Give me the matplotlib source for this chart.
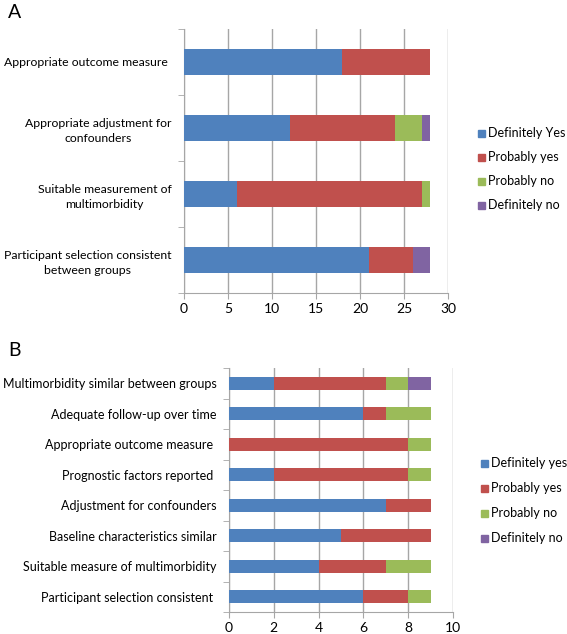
import matplotlib
matplotlib.use("Agg")
import matplotlib.pyplot as plt
import numpy as np

plt.rcParams['font.family'] = ['Lato', 'DejaVu Sans']

cats_a = ["Appropriate outcome measure ",
          "Appropriate adjustment for\nconfounders",
          "Suitable measurement of\nmultimorbidity",
          "Participant selection consistent\nbetween groups"]
def_yes_a = [18, 12, 6, 21]
prob_yes_a = [10, 12, 21, 5]
prob_no_a = [0, 3, 1, 0]
def_no_a = [0, 1, 0, 2]
legend_a = ["Definitely Yes", "Probably yes", "Probably no", "Definitely no"]
xticks_a = [0, 5, 10, 15, 20, 25, 30]

cats_b = ["Multimorbidity similar between groups",
          "Adequate follow-up over time",
          "Appropriate outcome measure ",
          "Prognostic factors reported ",
          "Adjustment for confounders",
          "Baseline characteristics similar",
          "Suitable measure of multimorbidity",
          "Participant selection consistent "]
def_yes_b = [2, 6, 0, 2, 7, 5, 4, 6]
prob_yes_b = [5, 1, 8, 6, 2, 4, 3, 2]
prob_no_b = [1, 2, 1, 1, 0, 0, 2, 1]
def_no_b = [1, 0, 0, 0, 0, 0, 0, 0]
legend_b = ["Definitely yes", "Probably yes", "Probably no", "Definitely no"]
xticks_b = [0, 2, 4, 6, 8, 10]

colors = ["#4F81BD", "#C0504D", "#9BBB59", "#8064A2"]
gridc = "#A6A6A6"

W, H = 567, 634
fig = plt.figure(figsize=(W/100, H/100), dpi=100)

def panel(rect, cats, series, xticks, bar_h, fs, pad, legtexts, leg_x, leg_y, leg_sp):
    ax = fig.add_axes(rect)
    n = len(cats)
    y = np.arange(n)
    left = np.zeros(n)
    for s, c in zip(series, colors):
        s = np.array(s, dtype=float)
        ax.barh(y, s, left=left, height=bar_h, color=c, zorder=3, linewidth=0)
        left += s
    ax.set_ylim(n - 0.5, -0.5)
    ax.set_xlim(xticks[0], xticks[-1])
    ax.set_xticks(xticks)
    ax.set_xticklabels([str(t) for t in xticks], fontsize=10)
    ax.set_yticks(y)
    ax.set_yticklabels(cats, fontsize=fs, multialignment='center', linespacing=1.45)
    ax.tick_params(axis='y', length=0, pad=pad)
    ax.set_yticks(np.arange(n + 1) - 0.5, minor=True)
    ax.tick_params(axis='y', which='minor', length=4, color=gridc)
    ax.tick_params(axis='x', length=4, color=gridc, pad=3)
    ax.xaxis.grid(True, color=gridc, linewidth=1, zorder=0)
    for sp in ['top', 'right']:
        ax.spines[sp].set_visible(False)
    for sp in ['left', 'bottom']:
        ax.spines[sp].set_color(gridc)
    for i, (t, c) in enumerate(zip(legtexts, colors)):
        yy = leg_y + i * leg_sp
        fig.patches.append(plt.Rectangle((leg_x / W, (H - yy - 4) / H), 7 / W, 7 / H,
                                         transform=fig.transFigure, color=c, figure=fig))
        fig.text((leg_x + 10) / W, (H - yy) / H, t, fontsize=9, va='center', ha='left')
    return ax

panel([184/W, (H-293)/H, (448-184)/W, (293-29)/H], cats_a,
      [def_yes_a, prob_yes_a, prob_no_a, def_no_a], xticks_a, 0.4, 8.85, 9,
      legend_a, 478, 133, 24)
panel([229/W, (H-612)/H, (453-229)/W, (612-368)/H], cats_b,
      [def_yes_b, prob_yes_b, prob_no_b, def_no_b], xticks_b, 0.42, 9, 9,
      legend_b, 481, 463, 25)

fig.text(8/W, (H-12)/H, "A", fontsize=14, va='center', ha='left')
fig.text(8/W, (H-350)/H, "B", fontsize=14, va='center', ha='left')

fig.savefig("out.png", dpi=100)
